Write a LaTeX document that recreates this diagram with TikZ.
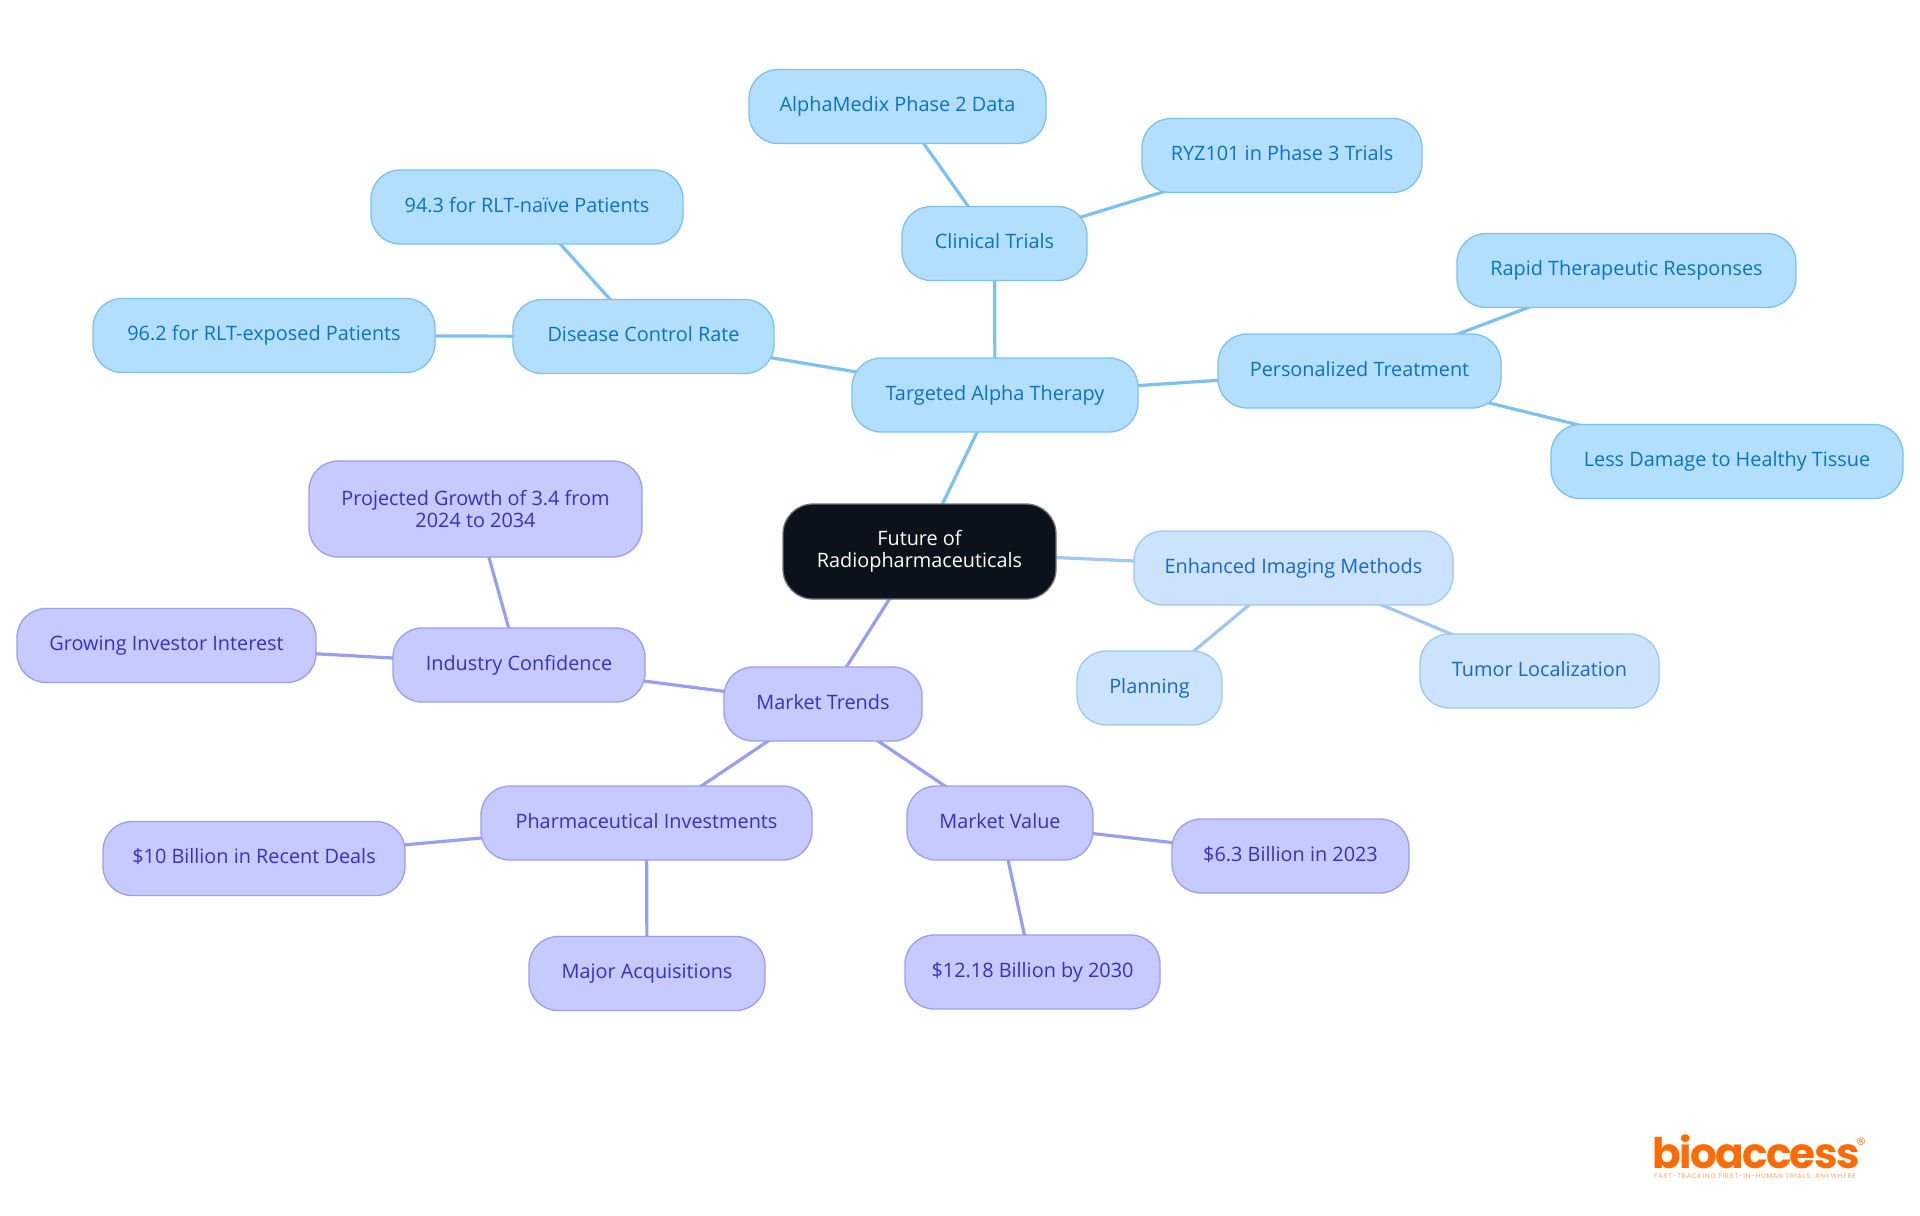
\documentclass[tikz,border=0pt]{standalone}
\usepackage{fontspec}
\setmainfont{Open Sans}
\newfontfamily\logofont[LetterSpace=-4]{Poppins}
\newfontfamily\tagfont[LetterSpace=12]{Poppins}
\newfontfamily\regfont{DejaVu Sans}
\usetikzlibrary{backgrounds}
\definecolor{rootfill}{HTML}{0B121B}
\definecolor{rootline}{HTML}{6E7379}
\definecolor{tealfill}{HTML}{B3DFFF}
\definecolor{tealline}{HTML}{7DC1F3}
\definecolor{tealtext}{HTML}{0B72C6}
\definecolor{palefill}{HTML}{CCE3FD}
\definecolor{paleline}{HTML}{A0C8F3}
\definecolor{paletext}{HTML}{1A66C9}
\definecolor{violetfill}{HTML}{C7CAFF}
\definecolor{violetline}{HTML}{9A9EF2}
\definecolor{violettext}{HTML}{3232C8}
\definecolor{logoorange}{HTML}{FF6B00}
\tikzset{
  topic/.style={rounded corners=.29cm,line width=.013cm,minimum height=.74cm,inner sep=0pt,align=center,
    font=\fontsize{5.65}{6.26}\selectfont,text height=.15cm,text depth=.05cm},
  twolines/.style={text height=,text depth=},
  rootnode/.style={topic,twolines,rounded corners=.3cm,fill=rootfill,draw=rootline,text=white},
  tealnode/.style={topic,fill=tealfill,draw=tealline,text=tealtext},
  palenode/.style={topic,fill=palefill,draw=paleline,text=paletext},
  violetnode/.style={topic,fill=violetfill,draw=violetline,text=violettext},
  tealedge/.style={draw=tealline,line width=.032cm},
  paleedge/.style={draw=paleline,line width=.032cm},
  violetedge/.style={draw=violetline,line width=.032cm}
}
\begin{document}
\begin{tikzpicture}
\useasboundingbox (0,0) rectangle (19.2,-12.15);
\node[rootnode,minimum width=2.73cm,minimum height=.95cm] (root) at (9.195,-5.515) {Future of\\Radiopharmaceuticals};
\node[tealnode,minimum width=2.86cm] (alpha) at (9.95,-3.95) {Targeted Alpha Therapy};
\node[tealnode,minimum width=1.85cm] (trials) at (9.945,-2.435) {Clinical Trials};
\node[tealnode,minimum width=2.97cm] (medix) at (8.975,-1.065) {AlphaMedix Phase 2 Data};
\node[tealnode,minimum width=2.80cm] (ryz) at (12.82,-1.555) {RYZ101 in Phase 3 Trials};
\node[tealnode,minimum width=2.61cm] (control) at (6.435,-3.365) {Disease Control Rate};
\node[tealnode,minimum width=3.12cm] (naive) at (5.27,-2.07) {94.3 for RLT-naïve Patients};
\node[tealnode,minimum width=3.42cm] (exposed) at (2.64,-3.355) {96.2 for RLT-exposed Patients};
\node[tealnode,minimum width=2.83cm] (personal) at (13.595,-3.71) {Personalized Treatment};
\node[tealnode,minimum width=3.39cm] (rapid) at (16.265,-2.705) {Rapid Therapeutic Responses};
\node[tealnode,minimum width=3.52cm] (tissue) at (17.27,-4.615) {Less Damage to Healthy Tissue};
\node[palenode,minimum width=3.19cm] (imaging) at (12.935,-5.68) {Enhanced Imaging Methods};
\node[palenode,minimum width=1.45cm] (planning) at (11.495,-6.88) {Planning};
\node[palenode,minimum width=2.39cm] (tumor) at (15.395,-6.71) {Tumor Localization};
\node[violetnode,minimum width=1.98cm] (trends) at (8.23,-7.04) {Market Trends};
\node[violetnode,minimum width=2.52cm] (industry) at (5.19,-6.65) {Industry Confidence};
\node[violetnode,twolines,minimum width=3.33cm,minimum height=.96cm] (growth) at (4.755,-5.09) {Projected Growth of 3.4 from\\2024 to 2034};
\node[violetnode,minimum width=2.99cm] (investor) at (1.665,-6.455) {Growing Investor Interest};
\node[violetnode,minimum width=3.31cm] (pharma) at (6.465,-8.23) {Pharmaceutical Investments};
\node[violetnode,minimum width=3.02cm] (deals) at (2.54,-8.585) {\$10 Billion in Recent Deals};
\node[violetnode,minimum width=2.36cm] (major) at (6.47,-9.735) {Major Acquisitions};
\node[violetnode,minimum width=1.86cm] (value) at (10.0,-8.23) {Market Value};
\node[violetnode,minimum width=2.37cm] (six) at (12.905,-8.56) {\$6.3 Billion in 2023};
\node[violetnode,minimum width=2.55cm] (twelve) at (10.325,-9.72) {\$12.18 Billion by 2030};
\begin{pgfonlayer}{background}
\draw[tealedge] (root.center)--(alpha.center);
\draw[tealedge] (alpha.center)--(trials.center);
\draw[tealedge] (trials.center)--(medix.center);
\draw[tealedge] (trials.center)--(ryz.center);
\draw[tealedge] (alpha.center)--(control.center);
\draw[tealedge] (control.center)--(naive.center);
\draw[tealedge] (control.center)--(exposed.center);
\draw[tealedge] (alpha.center)--(personal.center);
\draw[tealedge] (personal.center)--(rapid.center);
\draw[tealedge] (personal.center)--(tissue.center);
\draw[paleedge] (root.center)--(imaging.center);
\draw[paleedge] (imaging.center)--(planning.center);
\draw[paleedge] (imaging.center)--(tumor.center);
\draw[violetedge] (root.center)--(trends.center);
\draw[violetedge] (trends.center)--(industry.center);
\draw[violetedge] (industry.center)--(growth.center);
\draw[violetedge] (industry.center)--(investor.center);
\draw[violetedge] (trends.center)--(pharma.center);
\draw[violetedge] (pharma.center)--(deals.center);
\draw[violetedge] (pharma.center)--(major.center);
\draw[violetedge] (trends.center)--(value.center);
\draw[violetedge] (value.center)--(six.center);
\draw[violetedge] (value.center)--(twelve.center);
\end{pgfonlayer}
\node[text=logoorange,inner sep=0pt,anchor=base,text depth=0pt,font=\logofont\bfseries\fontsize{12}{14}\selectfont] (brand) at (17.56,-11.68) {bioaccess};
\node[text=logoorange,inner sep=0pt,font=\regfont\fontsize{3}{4}\selectfont] (reg) at (18.61,-11.42) {®};
\node[text=logoorange!60,inner sep=0pt,font=\tagfont\fontsize{1.9}{3}\selectfont] (tagline) at (17.55,-11.77) {FAST-TRACKING FIRST-IN-HUMAN TRIALS, ANYWHERE};
\end{tikzpicture}
\end{document}
